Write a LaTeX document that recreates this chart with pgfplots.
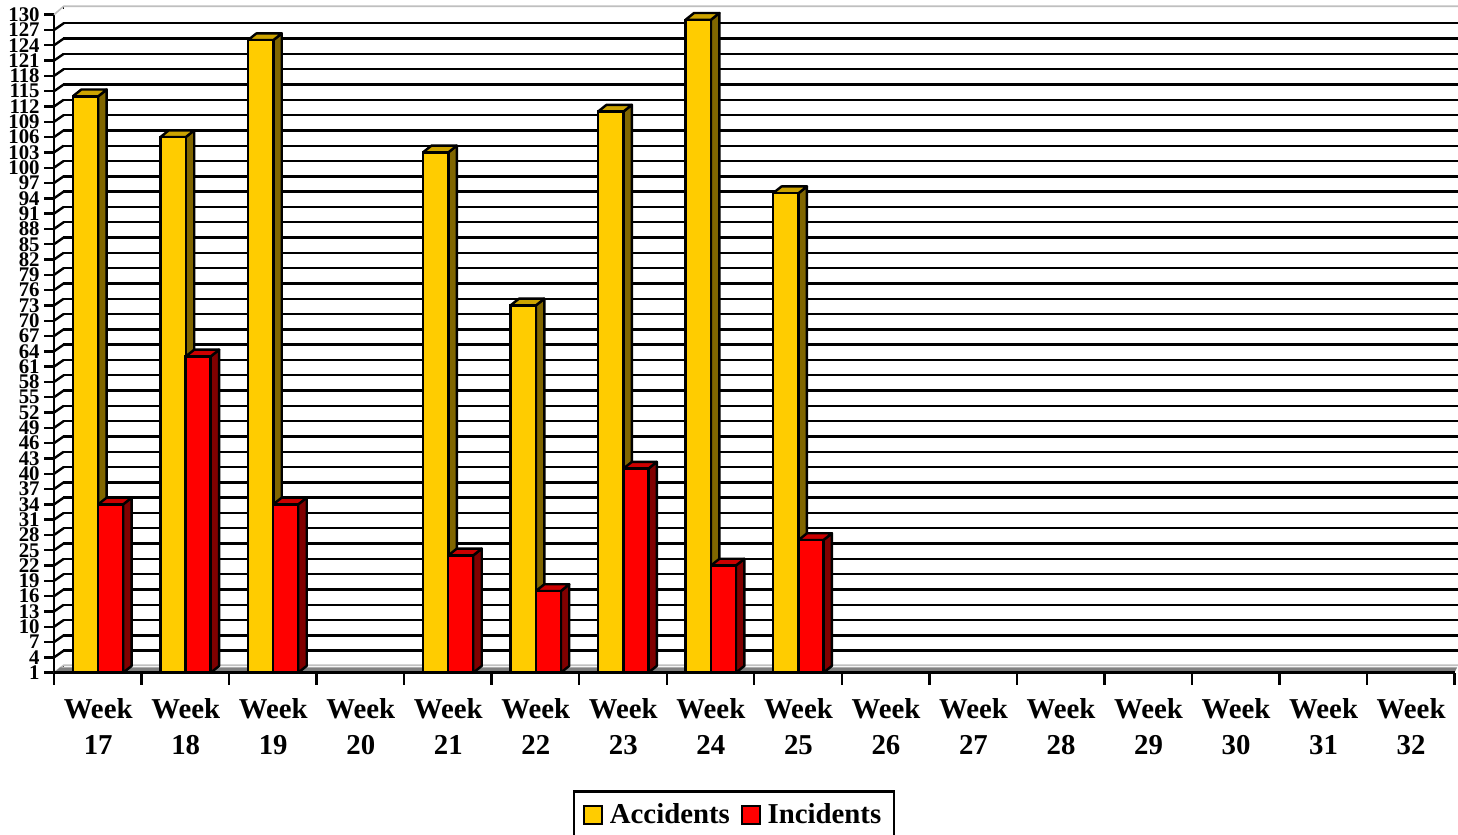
\documentclass[border=0pt]{standalone}
\usepackage{pgfplots}
\pgfplotsset{compat=1.18}
\usepackage{fontspec}
\setmainfont{Liberation Serif}
\definecolor{accF}{HTML}{FFCC00}\definecolor{accS}{HTML}{806600}\definecolor{accT}{HTML}{CCA300}
\definecolor{incF}{HTML}{FF0000}\definecolor{incS}{HTML}{800000}\definecolor{incT}{HTML}{CC0000}
\def\dxx{0.097}\def\dyy{1.33}
\newcommand{\boxfaces}[6]{%
 \pgfmathsetmacro\xl{#1+#3}\pgfmathsetmacro\xr{#1+#4}%
 \pgfmathsetmacro\xlb{\xl+\dxx}\pgfmathsetmacro\xrb{\xr+\dxx}%
 \pgfmathsetmacro\yb{1+\dyy}\pgfmathsetmacro\yt{#2+\dyy}%
 \addplot[forget plot,clip=false,fill=#5,draw=black,line width=1.2pt,line join=round] coordinates {(\xr,1)(\xrb,\yb)(\xrb,\yt)(\xr,#2)(\xr,1)};
 \addplot[forget plot,clip=false,fill=#6,draw=black,line width=1.2pt,line join=round] coordinates {(\xl,#2)(\xlb,\yt)(\xrb,\yt)(\xr,#2)(\xl,#2)};
}
\begin{document}
\begin{tikzpicture}
\useasboundingbox (0pt,0pt) rectangle (729pt,417.5pt);
\begin{axis}[
  at={(27pt,81.15pt)},anchor=south west,scale only axis,
  width=700.25pt,height=329pt,
  xmin=-0.5,xmax=15.5,ymin=1,ymax=130,
  clip mode=individual,
  axis x line=bottom,axis y line=left,
  axis line style={-,line width=1.2pt,black},
  tick align=outside,
  xtick={0,...,15},
  xticklabels={Week\\17,Week\\18,Week\\19,Week\\20,Week\\21,Week\\22,Week\\23,Week\\24,Week\\25,Week\\26,Week\\27,Week\\28,Week\\29,Week\\30,Week\\31,Week\\32},
  minor xtick={-0.5,0.5,...,15.5},
  x tick label style={align=center,font=\fontsize{14.4}{18}\selectfont\bfseries,yshift=-4.5pt,xshift=0.2pt},
  y tick label style={font=\fontsize{10.4}{10.4}\selectfont\bfseries,inner sep=0pt,xshift=-2pt},
  /pgf/number format/assume math mode=true,
  ytick={1,4,...,130},
  major tick length=5pt,minor tick length=6pt,
  x tick style={draw=none},
  minor x tick style={draw=black,line width=1.2pt},
  y tick style={black,line width=1.2pt},
  ymajorgrids,
  grid style={black,line width=1.2pt,xshift=4.75pt,yshift=3.35pt},
  legend columns=2,
  legend style={at={(0.3705,-0.1785)},anchor=north west,draw=black,line width=1.2pt,
    font=\fontsize{14.4}{16}\selectfont\bfseries,inner xsep=4.5pt,inner ysep=4pt,
    /tikz/every even column/.append style={column sep=3.5pt}},
  legend image code/.code={\draw[#1,line width=1.2pt,draw=black] (0pt,-4.7pt) rectangle (9pt,4.3pt);\path (10.2pt,0pt);},
]
% wall edges
\addplot[forget plot,clip=false,draw=white,line width=1.8pt] coordinates {(-0.39,2.31)(15.9,2.31)};
\addplot[forget plot,clip=false,draw=lightgray,line width=0.8pt] coordinates {(-0.5,1)(-0.39,2.45)(15.9,2.45)};
\addplot[forget plot,clip=false,draw=white,line width=1.8pt] coordinates {(-0.39,131.31)(15.9,131.31)};
\addplot[forget plot,clip=false,draw=lightgray,line width=0.8pt] coordinates {(-0.5,130)(-0.39,131.65)(15.9,131.65)};
% floor
\addplot[forget plot,clip=false,fill=gray,draw=none] coordinates {(-0.5,1)(15.5,1)(15.53,2.05)(-0.43,2.05)(-0.5,1)};
\addplot[forget plot,clip=false,draw=black,line width=1.2pt,quiver={u=0.11,v=1.31}] coordinates {
(-0.5,4)(-0.5,7)(-0.5,10)(-0.5,13)(-0.5,16)(-0.5,19)(-0.5,22)(-0.5,25)(-0.5,28)(-0.5,31)(-0.5,34)(-0.5,37)(-0.5,40)(-0.5,43)(-0.5,46)(-0.5,49)(-0.5,52)(-0.5,55)(-0.5,58)(-0.5,61)(-0.5,64)(-0.5,67)(-0.5,70)(-0.5,73)(-0.5,76)(-0.5,79)(-0.5,82)(-0.5,85)(-0.5,88)(-0.5,91)(-0.5,94)(-0.5,97)(-0.5,100)(-0.5,103)(-0.5,106)(-0.5,109)(-0.5,112)(-0.5,115)(-0.5,118)(-0.5,121)(-0.5,124)(-0.5,127)};
% Accidents
\boxfaces{0}{114}{-0.285}{0.005}{accS}{accT}
\boxfaces{1}{106}{-0.285}{0.005}{accS}{accT}
\boxfaces{2}{125}{-0.285}{0.005}{accS}{accT}
\boxfaces{4}{103}{-0.285}{0.005}{accS}{accT}
\boxfaces{5}{73}{-0.285}{0.005}{accS}{accT}
\boxfaces{6}{111}{-0.285}{0.005}{accS}{accT}
\boxfaces{7}{129}{-0.285}{0.005}{accS}{accT}
\boxfaces{8}{95}{-0.285}{0.005}{accS}{accT}
\addplot[ybar,bar width=12.7pt,bar shift=-6.1pt,fill=accF,draw=black,line width=1.2pt] coordinates {(0,114)(1,106)(2,125)(4,103)(5,73)(6,111)(7,129)(8,95)};
\addlegendentry{Accidents}
% Incidents
\boxfaces{0}{34}{0.005}{0.29}{incS}{incT}
\boxfaces{1}{63}{0.005}{0.29}{incS}{incT}
\boxfaces{2}{34}{0.005}{0.29}{incS}{incT}
\boxfaces{4}{24}{0.005}{0.29}{incS}{incT}
\boxfaces{5}{17}{0.005}{0.29}{incS}{incT}
\boxfaces{6}{41}{0.005}{0.29}{incS}{incT}
\boxfaces{7}{22}{0.005}{0.29}{incS}{incT}
\boxfaces{8}{27}{0.005}{0.29}{incS}{incT}
\addplot[ybar,bar width=12.5pt,bar shift=6.45pt,fill=incF,draw=black,line width=1.2pt] coordinates {(0,34)(1,63)(2,34)(4,24)(5,17)(6,41)(7,22)(8,27)};
\addlegendentry{Incidents}
\addplot[forget plot,clip=false,draw=black,line width=1.2pt] coordinates {(-0.5,1)(15.5,1)};
\end{axis}
\end{tikzpicture}
\end{document}
